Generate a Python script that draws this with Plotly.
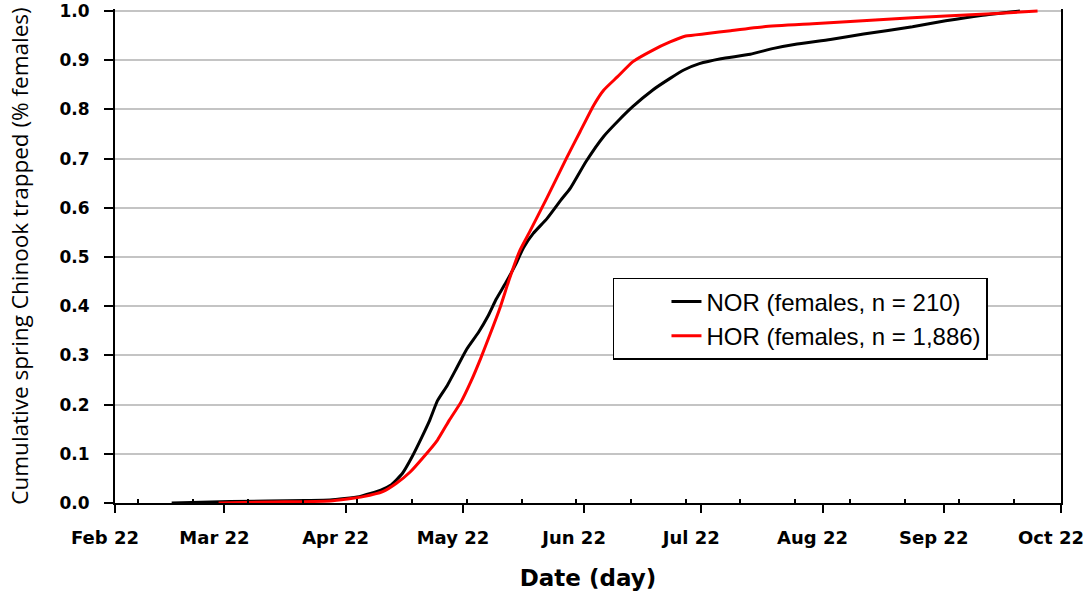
import plotly.graph_objects as go

# Cumulative proportion of spring Chinook females trapped, by date
nor_dates = [
    "2013-03-08 12:00", "2013-03-23 12:00", "2013-04-12", "2013-04-18",
    "2013-04-25 12:00", "2013-05-01", "2013-05-03 12:00", "2013-05-06 12:00",
    "2013-05-09", "2013-05-11 12:00", "2013-05-13 12:00", "2013-05-15 12:00",
    "2013-05-18", "2013-05-20 12:00", "2013-05-23", "2013-05-26",
    "2013-05-28 12:00", "2013-05-30 12:00", "2013-06-02", "2013-06-04 12:00",
    "2013-06-06 12:00", "2013-06-09", "2013-06-12 12:00", "2013-06-16",
    "2013-06-18 12:00", "2013-06-22 12:00", "2013-06-27", "2013-07-01",
    "2013-07-04 12:00", "2013-07-09 12:00", "2013-07-14", "2013-07-17 12:00",
    "2013-07-21 12:00", "2013-07-27", "2013-08-03 12:00", "2013-08-09 12:00",
    "2013-08-15 12:00", "2013-08-24", "2013-09-01 12:00", "2013-09-14",
    "2013-09-22 12:00", "2013-10-01 12:00", "2013-10-11 12:00",
]
nor_values = [
    0.000, 0.003, 0.005, 0.006,
    0.013, 0.026, 0.036, 0.060,
    0.094, 0.134, 0.168, 0.208,
    0.239, 0.276, 0.313, 0.347,
    0.381, 0.414, 0.448, 0.485,
    0.519, 0.548, 0.578, 0.615,
    0.640, 0.694, 0.745, 0.779,
    0.806, 0.839, 0.863, 0.880,
    0.893, 0.903, 0.912, 0.924,
    0.933, 0.942, 0.953, 0.968,
    0.980, 0.991, 1.000,
]

hor_dates = [
    "2013-03-20 12:00", "2013-04-03", "2013-04-18", "2013-04-26 12:00",
    "2013-05-01 12:00", "2013-05-05", "2013-05-08 12:00", "2013-05-12",
    "2013-05-15 12:00", "2013-05-18 12:00", "2013-05-21 12:00", "2013-05-24",
    "2013-05-26 12:00", "2013-05-29", "2013-05-31 12:00", "2013-06-03",
    "2013-06-05 12:00", "2013-06-08", "2013-06-12 12:00", "2013-06-17 12:00",
    "2013-06-21", "2013-06-24 12:00", "2013-06-27", "2013-06-30 12:00",
    "2013-07-04 12:00", "2013-07-09 12:00", "2013-07-14", "2013-07-18",
    "2013-07-23 12:00", "2013-07-29 12:00", "2013-08-07", "2013-08-19 12:00",
    "2013-09-05 12:00", "2013-09-22 12:00", "2013-10-05 12:00", "2013-10-16",
]
hor_values = [
    0.000, 0.002, 0.004, 0.013,
    0.023, 0.040, 0.063, 0.094,
    0.128, 0.168, 0.205, 0.246,
    0.293, 0.344, 0.397, 0.458,
    0.512, 0.550, 0.620, 0.701,
    0.755, 0.809, 0.839, 0.866,
    0.897, 0.920, 0.937, 0.949,
    0.954, 0.960, 0.968, 0.974,
    0.982, 0.990, 0.995, 1.000,
]

series_names = ["NOR (females, n = 210)", "HOR (females, n = 1,886)"]
series_colors = ["#000000", "#ff0000"]

x_start, x_end = "2013-02-22", "2013-10-22"

fig = go.Figure()
for name, color, xs, ys in zip(series_names, series_colors,
                               [nor_dates, hor_dates], [nor_values, hor_values]):
    fig.add_trace(go.Scatter(
        x=xs, y=ys, mode="lines", name=name,
        line=dict(color=color, width=3, shape="spline", smoothing=0.5),
    ))

tick_font = dict(family="DejaVu Sans", size=17, color="#000000", weight="bold")

fig.update_layout(
    template="none",
    width=1091, height=594,
    margin=dict(l=115, r=30, t=9, b=91),
    paper_bgcolor="white", plot_bgcolor="white",
    font=dict(color="#000000"),
    showlegend=True,
    legend=dict(
        x=0.5264, y=0.4555, xanchor="left", yanchor="top",
        bgcolor="white", bordercolor="#000000", borderwidth=1.5,
        font=dict(family="Liberation Sans", size=24, color="#000000"),
        indentation=52,
    ),
    xaxis=dict(
        type="date", range=[x_start, x_end], automargin=False,
        tick0=x_start, dtick="M1", tickformat="%b %d",
        ticks="outside", ticklen=8, tickwidth=1.5, tickcolor="#000000",
        showline=True, linecolor="#000000", linewidth=2,
        showgrid=False, zeroline=False,
        tickfont=dict(tick_font, size=18), ticklabelstandoff=9,
        ticklabelshift=-10, ticklabeloverflow="allow",
        minor=dict(tick0="2013-02-28", dtick=14 * 86400000, ticks="inside",
                   ticklen=4, tickwidth=1.5, tickcolor="#000000", showgrid=False),
        title=dict(text="Date (day)", standoff=23,
                   font=dict(family="DejaVu Sans", size=23, color="#000000", weight="bold")),
    ),
    yaxis=dict(
        range=[0, 1.004], automargin=False,
        tick0=0, dtick=0.1, tickformat=".1f",
        ticks="outside", ticklen=9, tickwidth=1.5, tickcolor="#000000",
        showline=True, linecolor="#000000", linewidth=2, mirror=True,
        showgrid=True, gridcolor="#c4c4c4", gridwidth=1.5, zeroline=False,
        tickfont=tick_font, ticklabelstandoff=11,
        ticklabeloverflow="allow",
        title=dict(text="Cumulative spring Chinook trapped (% females)", standoff=25,
                   font=dict(family="Open Sans", size=22.5, color="#000000")),
    ),
)

# darker frame line along the top of the plot area
fig.add_shape(type="line", xref="paper", yref="y", x0=0, x1=1, y0=1.0, y1=1.0,
              line=dict(color="#999999", width=2), layer="below")

fig.write_html("out.html")
